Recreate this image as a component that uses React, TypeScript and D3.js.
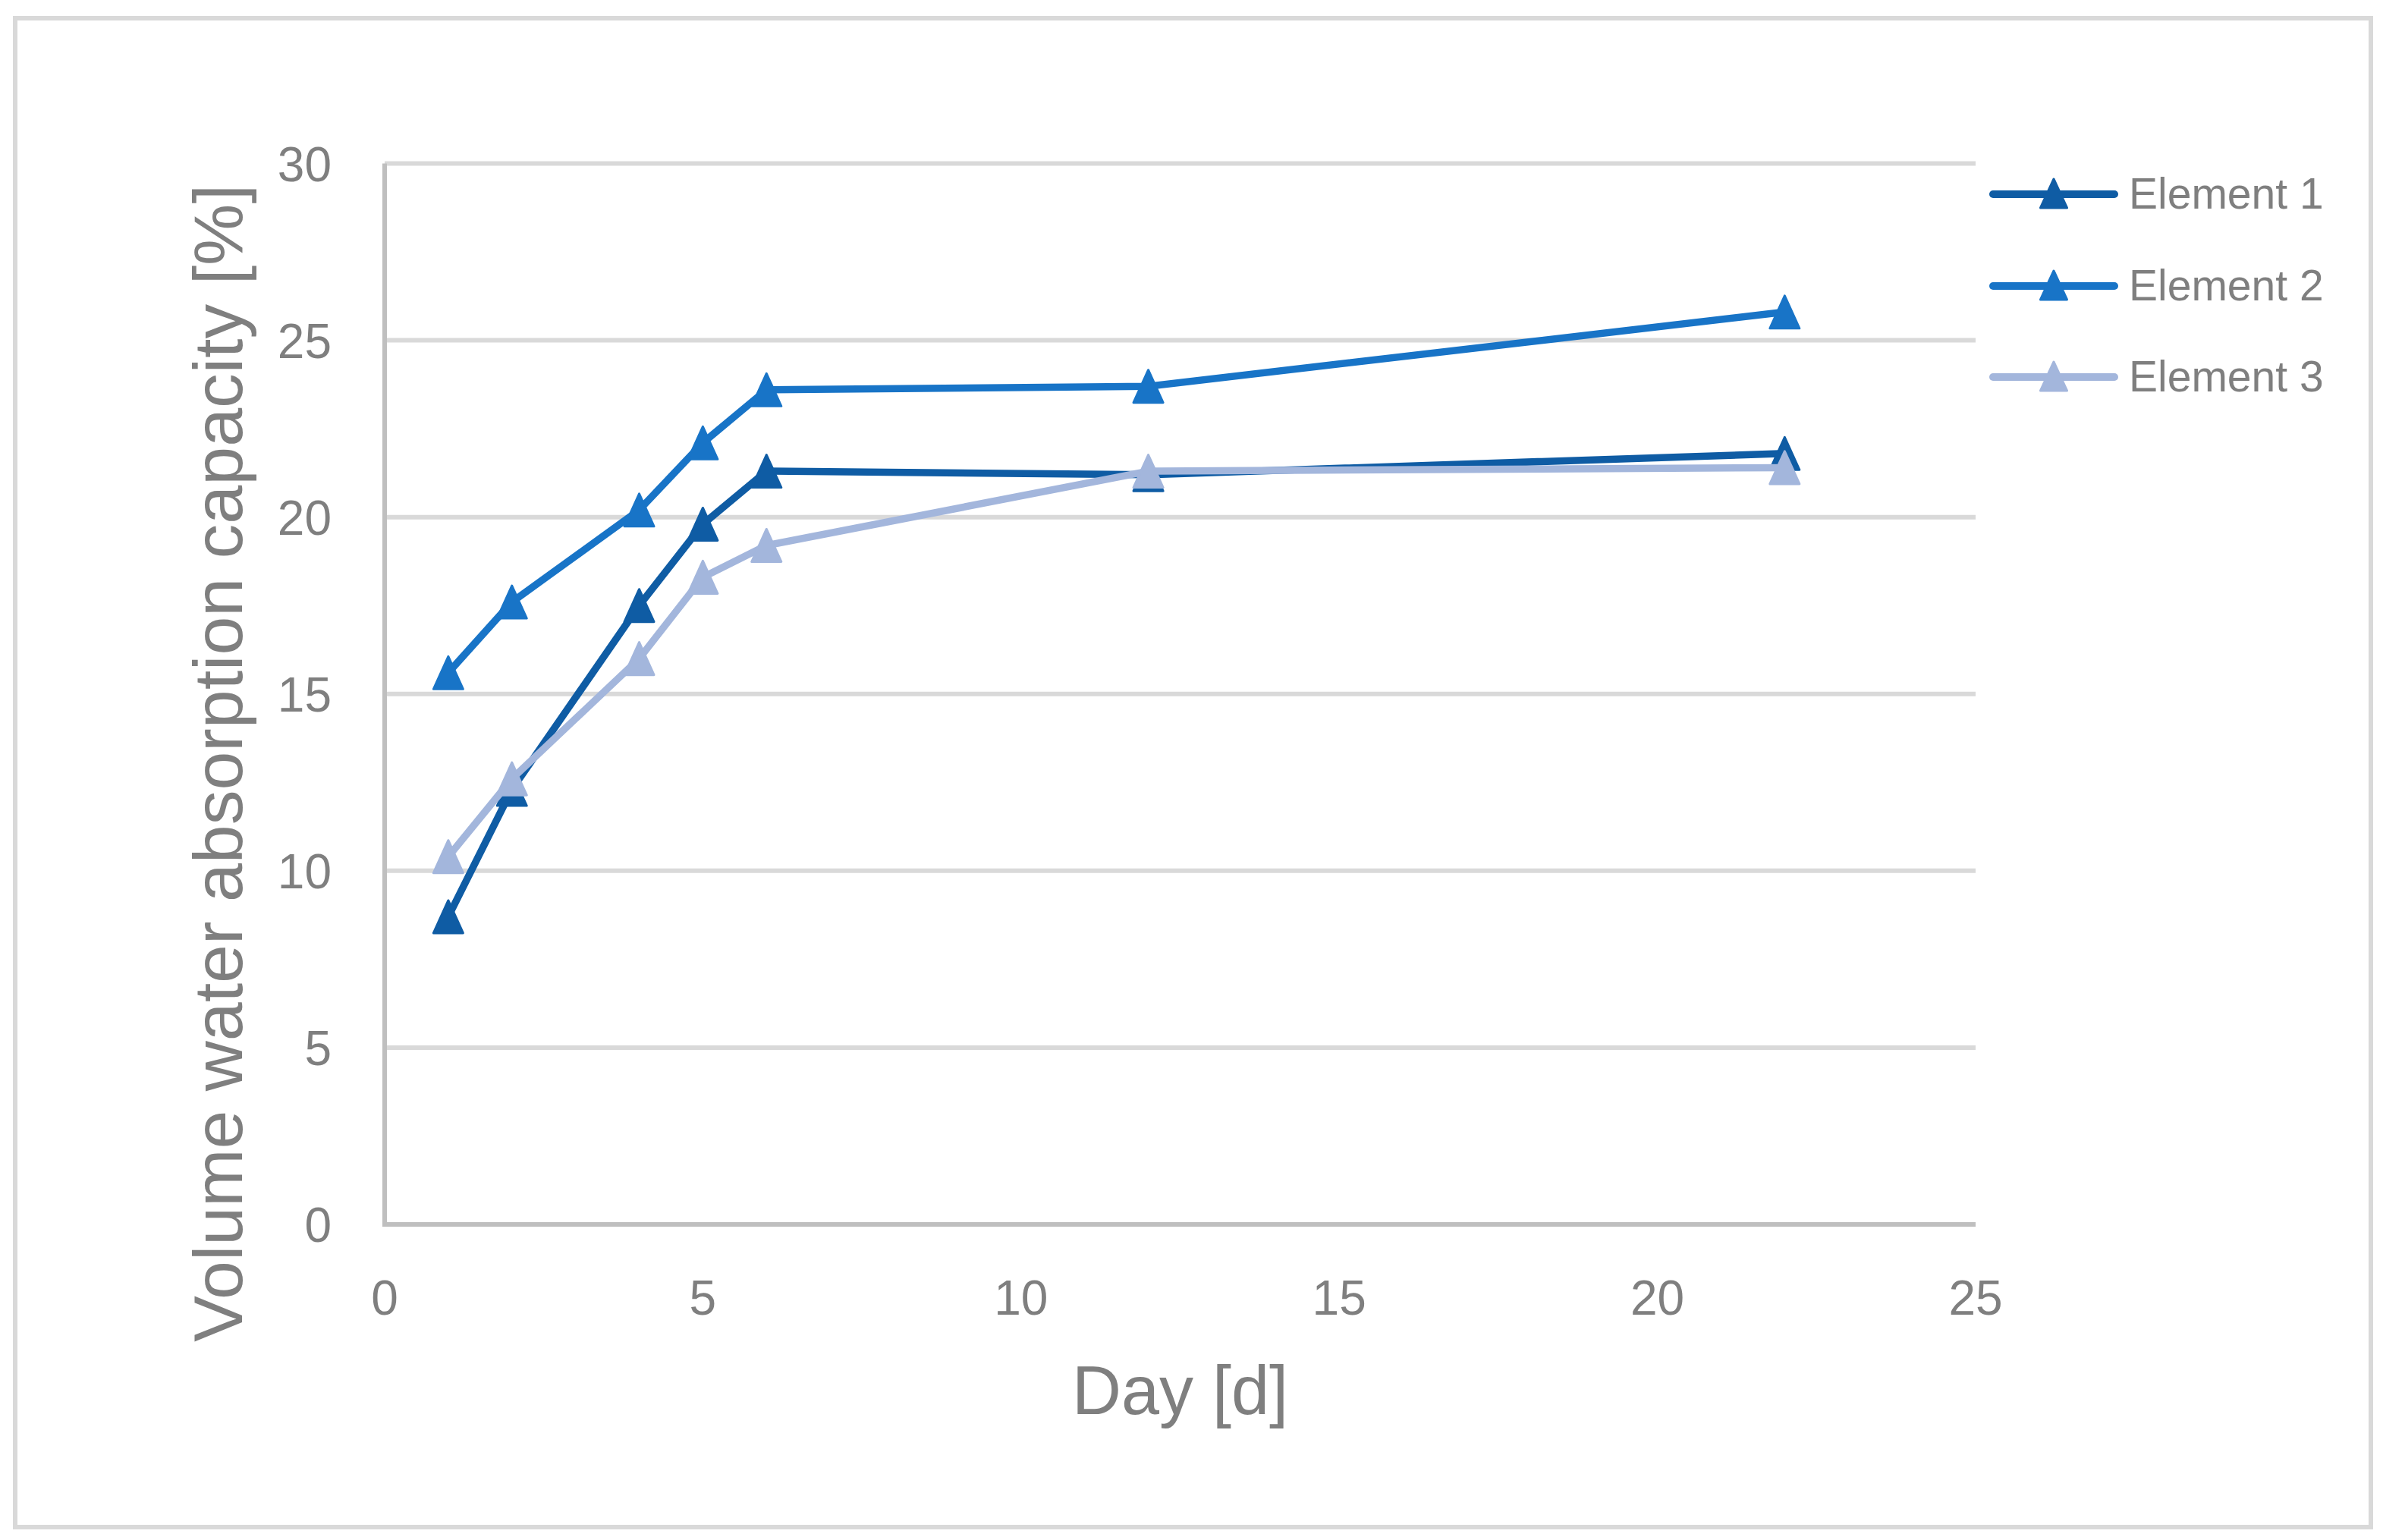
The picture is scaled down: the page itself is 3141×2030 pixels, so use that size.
import React, { useEffect, useRef } from "react";
import * as d3 from "d3";

const days = [1, 2, 4, 5, 6, 12, 22];
const element1 = [8.7, 12.3, 17.5, 19.8, 21.3, 21.2, 21.8];
const element2 = [15.6, 17.6, 20.2, 22.1, 23.6, 23.7, 25.8];
const element3 = [10.4, 12.6, 16.0, 18.3, 19.2, 21.3, 21.4];
const seriesNames = ["Element 1", "Element 2", "Element 3"];
const seriesColors = ["#0f5ca4", "#1874c7", "#a3b6dc"];
const xTicks = [0, 5, 10, 15, 20, 25];
const yTicks = [0, 5, 10, 15, 20, 25, 30];

const W = 3141;
const H = 2030;
const FONT = "'Liberation Sans', Arial, sans-serif";
const TEXT = "#7f7f7f";

export default function App() {
  const ref = useRef<SVGSVGElement | null>(null);

  useEffect(() => {
    const svg = d3.select(ref.current);
    svg.selectAll("*").remove();

    const left = 507, right = 2604, top = 215.5, bottom = 1614;
    const x = d3.scaleLinear().domain([0, 25]).range([left, right]);
    const y = d3.scaleLinear().domain([0, 30]).range([bottom, top]);

    svg.append("rect").attr("width", W).attr("height", H).attr("fill", "#fff");
    svg.append("rect")
      .attr("x", 20).attr("y", 24).attr("width", 3105).attr("height", 1989)
      .attr("fill", "none").attr("stroke", "#d9d9d9").attr("stroke-width", 6);

    // gridlines
    svg.append("g").selectAll("line").data(yTicks.filter((t) => t > 0)).join("line")
      .attr("x1", left).attr("x2", right)
      .attr("y1", (d) => y(d)).attr("y2", (d) => y(d))
      .attr("stroke", "#d9d9d9").attr("stroke-width", 6);

    // axes
    svg.append("line").attr("x1", left).attr("x2", left).attr("y1", top).attr("y2", bottom + 3)
      .attr("stroke", "#bfbfbf").attr("stroke-width", 6);
    svg.append("line").attr("x1", left - 3).attr("x2", right).attr("y1", bottom).attr("y2", bottom)
      .attr("stroke", "#bfbfbf").attr("stroke-width", 6);

    // tick labels
    svg.append("g").selectAll("text").data(yTicks).join("text")
      .attr("x", 437).attr("y", (d) => y(d) + 23)
      .attr("text-anchor", "end").attr("font-family", FONT).attr("font-size", 64).attr("fill", TEXT)
      .text((d) => String(d));
    svg.append("g").selectAll("text").data(xTicks).join("text")
      .attr("x", (d) => x(d)).attr("y", 1733)
      .attr("text-anchor", "middle").attr("font-family", FONT).attr("font-size", 64).attr("fill", TEXT)
      .text((d) => String(d));

    // axis titles
    svg.append("text").attr("x", (left + right) / 2).attr("y", 1864)
      .attr("text-anchor", "middle").attr("font-family", FONT).attr("font-size", 90).attr("fill", TEXT)
      .text("Day [d]");
    svg.append("text").attr("transform", "translate(319,1006) rotate(-90)")
      .attr("text-anchor", "middle").attr("font-family", FONT).attr("font-size", 91.5).attr("fill", TEXT)
      .text("Volume water absorption capacity [%]");

    const allSeries = [element1, element2, element3];
    const line = d3.line<number>().x((_, i) => x(days[i])).y((d) => y(d));
    const tri = (hw: number, hh: number) => `M0,${-hh}L${hw},${hh}L${-hw},${hh}Z`;

    allSeries.forEach((vals, si) => {
      const g = svg.append("g");
      g.append("path").attr("d", line(vals)).attr("fill", "none")
        .attr("stroke", seriesColors[si]).attr("stroke-width", 9.5)
        .attr("stroke-linejoin", "round").attr("stroke-linecap", "round");
      g.selectAll("path.m").data(vals).join("path").attr("class", "m")
        .attr("d", tri(19.5, 21.5))
        .attr("transform", (d, i) => `translate(${x(days[i])},${y(d)})`)
        .attr("fill", seriesColors[si]).attr("stroke", seriesColors[si])
        .attr("stroke-width", 3).attr("stroke-linejoin", "round");
    });

    // legend
    const legendY = [256, 377, 497];
    seriesNames.forEach((name, si) => {
      const g = svg.append("g").attr("transform", `translate(0,${legendY[si]})`);
      g.append("line").attr("x1", 2627).attr("x2", 2787).attr("y1", 0).attr("y2", 0)
        .attr("stroke", seriesColors[si]).attr("stroke-width", 10).attr("stroke-linecap", "round");
      g.append("path").attr("d", tri(17.5, 19)).attr("transform", "translate(2707,-1)")
        .attr("fill", seriesColors[si]).attr("stroke", seriesColors[si])
        .attr("stroke-width", 3).attr("stroke-linejoin", "round");
      g.append("text").attr("x", 2806).attr("y", 19)
        .attr("font-family", FONT).attr("font-size", 57).attr("fill", TEXT).text(name);
    });
  }, []);

  return (
    <svg ref={ref} width={W} height={H} viewBox={`0 0 ${W} ${H}`}
      style={{ position: "absolute", left: 0, top: 0, display: "block" }} />
  );
}
